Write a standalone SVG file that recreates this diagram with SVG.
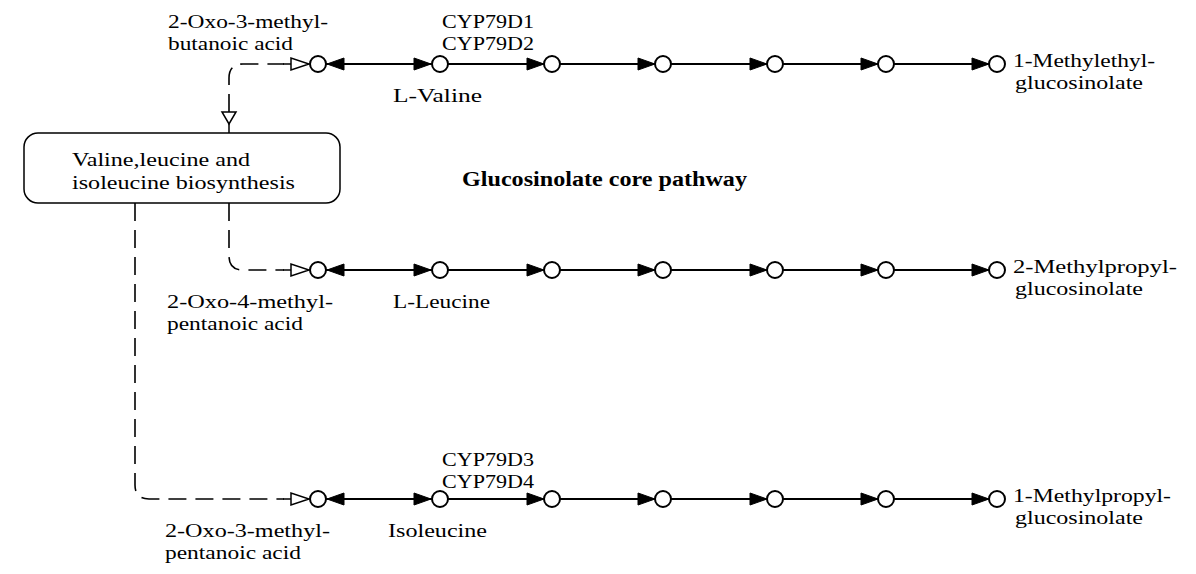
<svg xmlns="http://www.w3.org/2000/svg" width="1196" height="574" viewBox="0 0 1196 574">
<style>
text{font-family:"Liberation Serif","Times New Roman",serif;font-size:19px;fill:#000}
.title{font-weight:bold;font-size:20px}
.ln{stroke:#000;stroke-width:2;fill:none}
.dash{stroke:#000;stroke-width:1.6;fill:none;stroke-dasharray:18 9}
.cpd{fill:#fff;stroke:#000;stroke-width:2}
.ah{fill:#000;stroke:#000;stroke-width:1}
.oh{fill:#fff;stroke:#000;stroke-width:1.5}
</style>
<rect width="1196" height="574" fill="#fff"/>
<g id="connectors">
  <path class="dash" d="M229 112 L229 78 Q229 64 243 64 L284 64"/>
  <path class="dash" d="M229 203 L229 256 Q229 270 243 270 L284 270"/>
  <path class="dash" d="M135 203 L135 485 Q135 499 149 499 L284 499"/>
  <line class="ln" x1="229" y1="124" x2="229" y2="133" style="stroke-width:1.5"/>
  <polygon class="oh" points="222,112 236,112 229,124"/>
  <line class="ln" x1="283" y1="64" x2="291" y2="64" style="stroke-width:1.5"/>
  <polygon class="oh" points="291,58 291,70 309,64"/>
  <line class="ln" x1="283" y1="270" x2="291" y2="270" style="stroke-width:1.5"/>
  <polygon class="oh" points="291,264 291,276 309,270"/>
  <line class="ln" x1="283" y1="499" x2="291" y2="499" style="stroke-width:1.5"/>
  <polygon class="oh" points="291,493 291,505 309,499"/>
  <line class="ln" x1="326" y1="64" x2="989" y2="64"/>
  <line class="ln" x1="326" y1="270" x2="989" y2="270"/>
  <line class="ln" x1="326" y1="499" x2="989" y2="499"/>
  <polygon class="ah" points="344,58 344,70 327,64"/>
  <polygon class="ah" points="414,58 414,70 431,64"/>
  <polygon class="ah" points="527,58 527,70 544,64"/>
  <polygon class="ah" points="638,58 638,70 655,64"/>
  <polygon class="ah" points="750,58 750,70 767,64"/>
  <polygon class="ah" points="861,58 861,70 878,64"/>
  <polygon class="ah" points="972,58 972,70 989,64"/>
  <polygon class="ah" points="344,264 344,276 327,270"/>
  <polygon class="ah" points="414,264 414,276 431,270"/>
  <polygon class="ah" points="527,264 527,276 544,270"/>
  <polygon class="ah" points="638,264 638,276 655,270"/>
  <polygon class="ah" points="750,264 750,276 767,270"/>
  <polygon class="ah" points="861,264 861,276 878,270"/>
  <polygon class="ah" points="972,264 972,276 989,270"/>
  <polygon class="ah" points="344,493 344,505 327,499"/>
  <polygon class="ah" points="414,493 414,505 431,499"/>
  <polygon class="ah" points="527,493 527,505 544,499"/>
  <polygon class="ah" points="638,493 638,505 655,499"/>
  <polygon class="ah" points="750,493 750,505 767,499"/>
  <polygon class="ah" points="861,493 861,505 878,499"/>
  <polygon class="ah" points="972,493 972,505 989,499"/>
</g>
<g id="map-valine-leucine-isoleucine">
  <rect x="24" y="133" width="316" height="70" rx="14" fill="#fff" stroke="#000" stroke-width="1.5"/>
  <text x="72" y="166" textLength="178" lengthAdjust="spacingAndGlyphs">Valine,leucine and</text>
  <text x="72" y="189" textLength="223" lengthAdjust="spacingAndGlyphs">isoleucine biosynthesis</text>
</g>
<g id="title">
  <text class="title" x="462" y="186" textLength="285" lengthAdjust="spacingAndGlyphs">Glucosinolate core pathway</text>
</g>
<g id="row-valine">
  <g id="c-2-oxo-3-methylbutanoic"><circle class="cpd" cx="318" cy="64" r="8"/>
    <text x="168" y="28" textLength="160" lengthAdjust="spacingAndGlyphs">2-Oxo-3-methyl-</text>
    <text x="168" y="50" textLength="125" lengthAdjust="spacingAndGlyphs">butanoic acid</text></g>
  <g id="c-l-valine"><circle class="cpd" cx="440" cy="64" r="8"/>
    <text x="393" y="102" textLength="89" lengthAdjust="spacingAndGlyphs">L-Valine</text></g>
  <g id="e-cyp79d1-d2">
    <text x="442" y="28" textLength="92" lengthAdjust="spacingAndGlyphs">CYP79D1</text>
    <text x="442" y="50" textLength="92" lengthAdjust="spacingAndGlyphs">CYP79D2</text></g>
  <g id="c-r1-3"><circle class="cpd" cx="552" cy="64" r="8"/></g>
  <g id="c-r1-4"><circle class="cpd" cx="663" cy="64" r="8"/></g>
  <g id="c-r1-5"><circle class="cpd" cx="775" cy="64" r="8"/></g>
  <g id="c-r1-6"><circle class="cpd" cx="886" cy="64" r="8"/></g>
  <g id="c-1-methylethyl-gsl"><circle class="cpd" cx="997" cy="64" r="8"/>
    <text x="1013" y="67" textLength="142" lengthAdjust="spacingAndGlyphs">1-Methylethyl-</text>
    <text x="1015" y="89" textLength="128" lengthAdjust="spacingAndGlyphs">glucosinolate</text></g>
</g>
<g id="row-leucine">
  <g id="c-2-oxo-4-methylpentanoic"><circle class="cpd" cx="318" cy="270" r="8"/>
    <text x="167" y="308" textLength="166" lengthAdjust="spacingAndGlyphs">2-Oxo-4-methyl-</text>
    <text x="167" y="330" textLength="136" lengthAdjust="spacingAndGlyphs">pentanoic acid</text></g>
  <g id="c-l-leucine"><circle class="cpd" cx="440" cy="270" r="8"/>
    <text x="393" y="308" textLength="97" lengthAdjust="spacingAndGlyphs">L-Leucine</text></g>
  <g id="c-r2-3"><circle class="cpd" cx="552" cy="270" r="8"/></g>
  <g id="c-r2-4"><circle class="cpd" cx="663" cy="270" r="8"/></g>
  <g id="c-r2-5"><circle class="cpd" cx="775" cy="270" r="8"/></g>
  <g id="c-r2-6"><circle class="cpd" cx="886" cy="270" r="8"/></g>
  <g id="c-2-methylpropyl-gsl"><circle class="cpd" cx="997" cy="270" r="8"/>
    <text x="1013" y="273" textLength="164" lengthAdjust="spacingAndGlyphs">2-Methylpropyl-</text>
    <text x="1015" y="295" textLength="128" lengthAdjust="spacingAndGlyphs">glucosinolate</text></g>
</g>
<g id="row-isoleucine">
  <g id="c-2-oxo-3-methylpentanoic"><circle class="cpd" cx="318" cy="499" r="8"/>
    <text x="165" y="537" textLength="165" lengthAdjust="spacingAndGlyphs">2-Oxo-3-methyl-</text>
    <text x="165" y="559" textLength="136" lengthAdjust="spacingAndGlyphs">pentanoic acid</text></g>
  <g id="c-isoleucine"><circle class="cpd" cx="440" cy="499" r="8"/>
    <text x="388" y="537" textLength="99" lengthAdjust="spacingAndGlyphs">Isoleucine</text></g>
  <g id="e-cyp79d3-d4">
    <text x="442" y="466" textLength="92" lengthAdjust="spacingAndGlyphs">CYP79D3</text>
    <text x="442" y="488" textLength="92" lengthAdjust="spacingAndGlyphs">CYP79D4</text></g>
  <g id="c-r3-3"><circle class="cpd" cx="552" cy="499" r="8"/></g>
  <g id="c-r3-4"><circle class="cpd" cx="663" cy="499" r="8"/></g>
  <g id="c-r3-5"><circle class="cpd" cx="775" cy="499" r="8"/></g>
  <g id="c-r3-6"><circle class="cpd" cx="886" cy="499" r="8"/></g>
  <g id="c-1-methylpropyl-gsl"><circle class="cpd" cx="997" cy="499" r="8"/>
    <text x="1013" y="502" textLength="158" lengthAdjust="spacingAndGlyphs">1-Methylpropyl-</text>
    <text x="1015" y="524" textLength="128" lengthAdjust="spacingAndGlyphs">glucosinolate</text></g>
</g>
</svg>
